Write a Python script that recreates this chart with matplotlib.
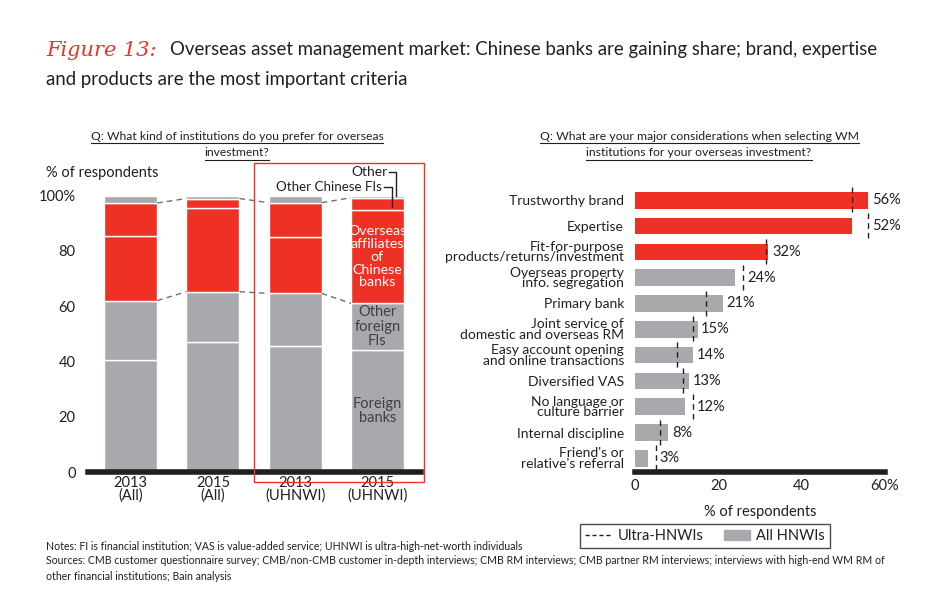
import numpy as np
import matplotlib
matplotlib.use('Agg')
import matplotlib.pyplot as plt
import matplotlib.lines as mlines
import matplotlib.patches as mpatches

plt.rcParams['font.family'] = ['Lato', 'DejaVu Sans']

RED = '#EE3124'
GREY = '#A7A9AC'
TXT = '#231F20'

# Left chart data (% of respondents)
groups = ['2013\n(All)', '2015\n(All)', '2013\n(UHNWI)', '2015\n(UHNWI)']
foreign_banks = [40.5, 47.0, 45.7, 44.0]
other_foreign_fis = [21.5, 18.2, 18.9, 17.0]
overseas_affiliates = [23.5, 30.2, 20.3, 33.6]
other_chinese_fis = [11.8, 3.5, 12.5, 4.6]
other = [2.7, 1.1, 2.6, 0.8]
left_yticks = [0, 20, 40, 60, 80, 100]
left_yticklabels = ['0', '20', '40', '60', '80', '100%']

# Right chart data
considerations = ['Trustworthy brand', 'Expertise',
                  'Fit-for-purpose\nproducts/returns/investment',
                  'Overseas property\ninfo. segregation', 'Primary bank',
                  'Joint service of\ndomestic and overseas RM',
                  'Easy account opening\nand online transactions',
                  'Diversified VAS', 'No language or\nculture barrier',
                  'Internal discipline', "Friend's or\nrelative's referral"]
all_hnwis = [56, 52, 32, 24, 21, 15, 14, 13, 12, 8, 3]
ultra_hnwis = [52, 56, 31.5, 26, 17, 14, 10, 11.5, 14, 6, 5]
n_highlight = 3
right_xticks = [0, 20, 40, 60]
right_xticklabels = ['0', '20', '40', '60%']

W, H = 950, 606


def fx(px):
    return px / W


def fy(py):
    return 1 - py / H


fig = plt.figure(figsize=(W / 100, H / 100), dpi=100)

# ---------------- Titles ----------------
fig.text(fx(46), fy(50), 'Figure 13:', color=RED, fontsize=15, family='DejaVu Serif',
         style='italic', va='center', ha='left')
fig.text(fx(170), fy(50), 'Overseas asset management market: Chinese banks are gaining share; brand, expertise',
         color=TXT, fontsize=13.4, va='center', ha='left')
fig.text(fx(46), fy(80), 'and products are the most important criteria',
         color=TXT, fontsize=13.4, va='center', ha='left')

underlined = []
underlined.append(fig.text(fx(237), fy(136), 'Q: What kind of institutions do you prefer for overseas',
                           color=TXT, fontsize=8.7, ha='center', va='center'))
underlined.append(fig.text(fx(237), fy(153), 'investment?', color=TXT, fontsize=8.7, ha='center', va='center'))
underlined.append(fig.text(fx(699), fy(136), 'Q: What are your major considerations when selecting WM',
                           color=TXT, fontsize=8.8, ha='center', va='center'))
underlined.append(fig.text(fx(699), fy(153), 'institutions for your overseas investment?',
                           color=TXT, fontsize=8.8, ha='center', va='center'))

# ---------------- Left chart ----------------
axl = fig.add_axes([fx(88), fy(472), fx(333), 276.5 / H])
x = np.arange(len(groups))
bw = 0.645
segments = [(foreign_banks, GREY), (other_foreign_fis, GREY), (overseas_affiliates, RED),
            (other_chinese_fis, RED), (other, GREY)]
bottom = np.zeros(len(groups))
tops = []
for vals, col in segments:
    axl.bar(x, vals, bw, bottom=bottom, color=col, edgecolor='white', linewidth=1)
    bottom = bottom + np.array(vals)
    tops.append(bottom.copy())

# dashed connectors
for level in (tops[1], tops[3]):
    for i in range(len(groups) - 1):
        axl.plot([x[i] + bw / 2, x[i + 1] - bw / 2], [level[i], level[i + 1]],
                 color='#6D6E71', linestyle=(0, (4, 3)), linewidth=1)

axl.set_xlim(-0.52, 3.53)
axl.set_ylim(0, 100)
axl.set_yticks(left_yticks)
axl.set_yticklabels(left_yticklabels, fontsize=10.5, color=TXT)
axl.set_xticks(x)
axl.set_xticklabels(groups, fontsize=10.5, color=TXT, linespacing=0.8)
axl.tick_params(length=0)
axl.tick_params(axis='y', pad=9)
axl.tick_params(axis='x', pad=3)
for s in ['top', 'right', 'left']:
    axl.spines[s].set_visible(False)
axl.spines['bottom'].set_linewidth(4)
axl.spines['bottom'].set_color('#231F20')

# segment labels on last bar
last = len(groups) - 1
axl.text(x[last], foreign_banks[last] / 2, 'Foreign\nbanks', ha='center', va='center',
         fontsize=10.5, color='#414042', linespacing=0.95)
axl.text(x[last], tops[0][last] + other_foreign_fis[last] / 2, 'Other\nforeign\nFIs', ha='center',
         va='center', fontsize=10.5, color='#414042', linespacing=1.05)
axl.text(x[last], tops[1][last] + overseas_affiliates[last] / 2,
         'Overseas\naffiliates\nof\nChinese\nbanks', ha='center', va='center', fontsize=10.3,
         color='white', linespacing=1.08)
axl.text(3.12, 108.5, 'Other', ha='right', va='center', fontsize=10, color=TXT)
axl.text(3.06, 103, 'Other Chinese FIs', ha='right', va='center', fontsize=9.6, color=TXT)
axl.plot([3.14, 3.22, 3.22], [108.5, 108.5, tops[4][last]], color=TXT, lw=1, clip_on=False)
axl.plot([3.08, 3.18, 3.18], [103, 103, tops[2][last] + other_chinese_fis[last] / 2 - 1],
         color=TXT, lw=1, clip_on=False)

fig.text(fx(46), fy(173), '% of respondents', fontsize=10.5, color=TXT, ha='left', va='center')

# red highlight box
fig.patches.append(mpatches.Rectangle((fx(254), fy(482)), fx(424 - 254), (482 - 163) / H,
                                      transform=fig.transFigure, fill=False,
                                      edgecolor=RED, linewidth=1))

# ---------------- Right chart ----------------
axr = fig.add_axes([fx(635), fy(472), fx(250), 287.2 / H])
y = np.arange(len(considerations))
colors = [RED if i < n_highlight else GREY for i in range(len(considerations))]
axr.barh(y, all_hnwis, height=0.65, color=colors)
for i in range(len(considerations)):
    axr.plot([ultra_hnwis[i]] * 2, [y[i] - 0.5, y[i] + 0.5], color=TXT,
             linestyle=(0, (4, 3)), linewidth=1)
    axr.text(max(all_hnwis[i], ultra_hnwis[i]) + 0.9, y[i], f'{all_hnwis[i]}%',
             va='center', ha='left', fontsize=10.5, color=TXT)
axr.set_xlim(0, 60)
axr.set_ylim(10.53, -0.6)
axr.set_yticks(y)
axr.set_yticklabels(considerations, fontsize=10, color=TXT, linespacing=0.85)
axr.set_xticks(right_xticks)
axr.set_xticklabels(right_xticklabels, fontsize=10.5, color=TXT)
axr.tick_params(length=0)
axr.tick_params(axis='y', pad=8)
axr.tick_params(axis='x', pad=5)
for s in ['top', 'right', 'left']:
    axr.spines[s].set_visible(False)
axr.spines['bottom'].set_linewidth(4)
axr.spines['bottom'].set_color('#231F20')
axr.set_xlabel('% of respondents', fontsize=10.5, color=TXT, labelpad=9)

handles = [mlines.Line2D([], [], color=TXT, linestyle=(0, (3, 2)), lw=1),
           mpatches.Patch(color=GREY)]
leg = fig.legend(handles, ['Ultra-HNWIs', 'All HNWIs'], loc='center',
                 bbox_to_anchor=(fx(705), fy(536)), ncol=2, frameon=True, fancybox=False,
                 fontsize=10.5, handlelength=1.8, handletextpad=0.4, columnspacing=1.4,
                 borderpad=0.35, labelcolor=TXT)
leg.get_frame().set_edgecolor(TXT)
leg.get_frame().set_linewidth(1)

# ---------------- Notes ----------------
fig.text(fx(46), fy(547), 'Notes: FI is financial institution; VAS is value-added service; '
         'UHNWI is ultra-high-net-worth individuals', fontsize=7.6, color=TXT, va='center')
fig.text(fx(46), fy(561), 'Sources: CMB customer questionnaire survey; CMB/non-CMB customer in-depth '
         'interviews; CMB RM interviews; CMB partner RM interviews; interviews with high-end WM RM of',
         fontsize=7.6, color=TXT, va='center')
fig.text(fx(46), fy(576), 'other financial institutions; Bain analysis', fontsize=7.6, color=TXT,
         va='center')

# underline the questions
fig.canvas.draw()
r = fig.canvas.get_renderer()
for t in underlined:
    bb = t.get_window_extent(r)
    yy = bb.y0 - 1
    fig.lines.append(mlines.Line2D([bb.x0 / W, bb.x1 / W], [yy / H, yy / H], color=TXT,
                                   lw=0.8, transform=fig.transFigure))

fig.savefig('out.png', dpi=100)
